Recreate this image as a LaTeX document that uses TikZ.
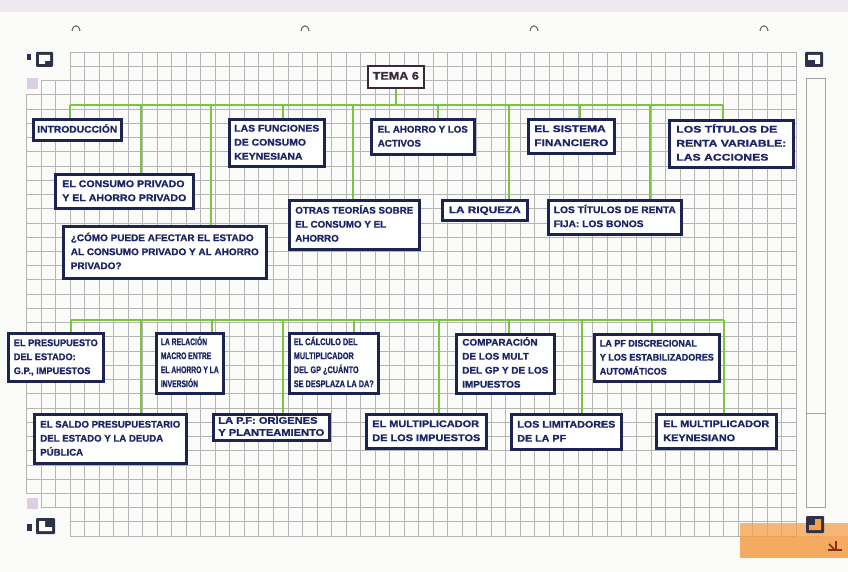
\documentclass[tikz,border=0pt]{standalone}
\usepackage{fontspec}
\setmainfont{Liberation Sans}[BoldFeatures={FakeBold=1.2}]
\usepackage{graphicx}
\definecolor{paperc}{HTML}{FBFBFA}
\definecolor{gridc}{HTML}{B5B5B5}
\definecolor{boxc}{HTML}{1E2452}
\definecolor{txtc}{HTML}{1C2566}
\definecolor{greenc}{HTML}{7CC443}
\definecolor{temac}{HTML}{3E2838}
\definecolor{markc}{HTML}{2E3248}
\definecolor{pinkc}{HTML}{DCCFE3}
\definecolor{bandc}{HTML}{EEE9F1}
\definecolor{orangec}{HTML}{F4A04A}
\definecolor{redc}{HTML}{8E2A18}
\newcommand{\hwt}[2]{\resizebox{#1pt}{\height}{\begin{tabular}{@{}l@{}}#2\end{tabular}}}
\tikzset{
  box/.style={draw=boxc, line width=2.6pt, fill=white, inner sep=0pt, anchor=north west,
    text=txtc, font=\bfseries\fontsize{9.6}{14}\selectfont},
  tightbox/.style={box, font=\bfseries\fontsize{9.6}{12}\selectfont},
  temabox/.style={draw=temac, line width=1.6pt, fill=white, inner sep=0pt, anchor=north west,
    text=temac, font=\bfseries\fontsize{11}{14}\selectfont},
  conn/.style={draw=greenc, line width=2.6pt},
  gridl/.style={draw=gridc, line width=0.6pt},
  hole/.style={draw=gray!85!black, line width=1.1pt},
}
\begin{document}
\begin{tikzpicture}[x=1pt,y=-1pt]
\useasboundingbox (0,0) rectangle (848,572);
\fill[paperc] (0,0) rectangle (848,572);
\fill[bandc] (0,0) rectangle (848,12);
% punched hole marks
\foreach \hx in {76,305,534,764} {
  \draw[hole] (\hx-4,31) .. controls (\hx-3,24) and (\hx+3,24) .. (\hx+4,31);
}
% grid
\foreach \i in {0,...,50} \draw[gridl] ({70+14.52*\i},52) -- ({70+14.52*\i},536);
\foreach \i in {-2,-1} \draw[gridl] ({70+14.52*\i},80.47) -- ({70+14.52*\i},507.52);
\draw[gridl] (26.44,94.7) -- (26.44,493.3);
\foreach \j in {0,1,33,34} \draw[gridl] (70,{52+14.235*\j}) -- (796,{52+14.235*\j});
\foreach \j in {2,32} \draw[gridl] (41,{52+14.235*\j}) -- (796,{52+14.235*\j});
\foreach \j in {3,...,31} \draw[gridl] (26.44,{52+14.235*\j}) -- (796,{52+14.235*\j});
% right strip
\draw[draw=gridc!90!black, line width=0.8pt] (806,78) rectangle (825,507);
\draw[draw=gridc!90!black, line width=0.8pt] (806,413) -- (825,413);
% margin marks
\fill[pinkc] (27,78) rectangle (38,89);
\fill[pinkc] (27,498) rectangle (38,509);
\fill[markc] (27,54) rectangle (31,60);
\fill[markc] (27,524) rectangle (32,531);
\fill[markc, rounded corners=1pt] (36,52) rectangle (53,67);
\fill[white] (39,55) -- (50,55) -- (50,61) -- (45,61) -- (45,64) -- (39,64) -- cycle;
\fill[markc, rounded corners=1pt] (805,52) rectangle (823,67);
\fill[white] (808,55) -- (820,55) -- (820,64) -- (815,64) -- (815,60) -- (808,60) -- cycle;
\fill[markc, rounded corners=1pt] (36,518) rectangle (55,534);
\fill[white] (39,521) -- (45,521) -- (45,527) -- (52,527) -- (52,531) -- (39,531) -- cycle;
% orange note
\fill[orangec, opacity=0.75] (740,523) rectangle (848,558);
\fill[orangec, opacity=0.5] (740,536) rectangle (848,558);
\fill[markc, rounded corners=1pt] (806,516) rectangle (824,533);
\fill[orangec] (815,519) -- (821,519) -- (821,530) -- (809,530) -- (809,525) -- (815,525) -- cycle;
\draw[redc, line width=2pt] (828,550) -- (842,550);
\draw[redc, line width=2pt] (836,541) -- (836,551);
\draw[redc, line width=1.6pt] (829,544) -- (834,549);

% title
\node[temabox, minimum width=56pt, minimum height=22pt] (tema) at (367,65) {\hwt{46}{TEMA 6}};

% top branch boxes
\node[box, minimum width=88pt, minimum height=21pt] (intro) at (32,118) {\hwt{80}{INTRODUCCIÓN}};
\node[box, minimum width=138pt, minimum height=34pt] (consumo) at (54,173) {\hwt{124}{EL CONSUMO PRIVADO\\Y EL AHORRO PRIVADO}};
\node[box, minimum width=203pt, minimum height=52pt] (como) at (62,225) {\hwt{188}{¿CÓMO PUEDE AFECTAR EL ESTADO\\AL CONSUMO PRIVADO Y AL AHORRO\\PRIVADO?}};
\node[box, minimum width=95pt, minimum height=47pt] (funciones) at (228,118) {\hwt{85}{LAS FUNCIONES\\DE CONSUMO\\KEYNESIANA}};
\node[box, minimum width=130pt, minimum height=49pt] (otras) at (288,199) {\hwt{118}{OTRAS TEORÍAS SOBRE\\EL CONSUMO Y EL\\AHORRO}};
\node[box, minimum width=103pt, minimum height=35pt] (ahorro) at (370,118) {\hwt{90}{EL AHORRO Y LOS\\ACTIVOS}};
\node[box, minimum width=85pt, minimum height=20pt] (riqueza) at (441,199) {\hwt{72}{LA RIQUEZA}};
\node[box, minimum width=86pt, minimum height=34pt] (sistema) at (527,118) {\hwt{74}{EL SISTEMA\\FINANCIERO}};
\node[box, minimum width=133pt, minimum height=34pt] (fija) at (547,199) {\hwt{122}{LOS TÍTULOS DE RENTA\\FIJA: LOS BONOS}};
\node[box, minimum width=124pt, minimum height=47pt] (variable) at (668,119) {\hwt{110}{LOS TÍTULOS DE\\RENTA VARIABLE:\\LAS ACCIONES}};

% bottom branch boxes
\node[box, minimum width=95pt, minimum height=48pt] (presupuesto) at (7,332) {\hwt{84}{EL PRESUPUESTO\\DEL ESTADO:\\G.P., IMPUESTOS}};
\node[box, minimum width=152pt, minimum height=49pt] (saldo) at (33,413) {\hwt{140}{EL SALDO PRESUPUESTARIO\\DEL ESTADO Y LA DEUDA\\PÚBLICA}};
\node[box, minimum width=67pt, minimum height=60pt] (relacion) at (155,332) {\hwt{58}{LA RELACIÓN\\MACRO ENTRE\\EL AHORRO Y LA\\INVERSIÓN}};
\node[tightbox, minimum width=116pt, minimum height=26pt] (pf) at (212,413) {\hwt{106}{LA P.F: ORÍGENES\\Y PLANTEAMIENTO}};
\node[box, minimum width=89pt, minimum height=60pt] (calculo) at (288,332) {\hwt{80}{EL CÁLCULO DEL\\MULTIPLICADOR\\DEL GP ¿CUÁNTO\\SE DESPLAZA LA DA?}};
\node[box, minimum width=120pt, minimum height=34pt] (multimp) at (365,413) {\hwt{108}{EL MULTIPLICADOR\\DE LOS IMPUESTOS}};
\node[box, minimum width=98pt, minimum height=59pt] (comparacion) at (455,333) {\hwt{86}{COMPARACIÓN\\DE LOS MULT\\DEL GP Y DE LOS\\IMPUESTOS}};
\node[box, minimum width=110pt, minimum height=35pt] (limitadores) at (510,413) {\hwt{98}{LOS LIMITADORES\\DE LA PF}};
\node[box, minimum width=125pt, minimum height=47pt] (discrecional) at (593,333) {\hwt{114}{LA PF DISCRECIONAL\\Y LOS ESTABILIZADORES\\AUTOMÁTICOS}};
\node[box, minimum width=120pt, minimum height=34pt] (keynesiano) at (655,413) {\hwt{106}{EL MULTIPLICADOR\\KEYNESIANO}};

% connectors: top bus
\coordinate (tL) at (70,105);
\coordinate (tR) at (723,105);
\draw[conn] (tL) -- (tR);
\draw[conn] (tema.south) -- (tema.south |- tL);
\coordinate (a1) at (70,105);
\coordinate (a2) at (141,105);
\coordinate (a3) at (211,105);
\coordinate (a4) at (283,105);
\coordinate (a5) at (353,105);
\coordinate (a6) at (438,105);
\coordinate (a7) at (509,105);
\coordinate (a8) at (580,105);
\coordinate (a9) at (650,105);
\coordinate (a10) at (723,105);
\draw[conn] (a1) -- (a1 |- intro.north);
\draw[conn] (a2) -- (a2 |- consumo.north);
\draw[conn] (a3) -- (a3 |- como.north);
\draw[conn] (a4) -- (a4 |- funciones.north);
\draw[conn] (a5) -- (a5 |- otras.north);
\draw[conn] (a6) -- (a6 |- ahorro.north);
\draw[conn] (a7) -- (a7 |- riqueza.north);
\draw[conn] (a8) -- (a8 |- sistema.north);
\draw[conn] (a9) -- (a9 |- fija.north);
\draw[conn] (a10) -- (a10 |- variable.north);

% connectors: bottom bus
\coordinate (bL) at (71,320);
\coordinate (bR) at (724,320);
\draw[conn] (bL) -- (bR);
\coordinate (b1) at (71,320);
\coordinate (b2) at (141,320);
\coordinate (b3) at (212,320);
\coordinate (b4) at (283,320);
\coordinate (b5) at (354,320);
\coordinate (b6) at (439,320);
\coordinate (b7) at (509,320);
\coordinate (b8) at (582,320);
\coordinate (b9) at (652,320);
\coordinate (b10) at (724,320);
\draw[conn] (b1) -- (b1 |- presupuesto.north);
\draw[conn] (b2) -- (b2 |- saldo.north);
\draw[conn] (b3) -- (b3 |- relacion.north);
\draw[conn] (b4) -- (b4 |- pf.north);
\draw[conn] (b5) -- (b5 |- calculo.north);
\draw[conn] (b6) -- (b6 |- multimp.north);
\draw[conn] (b7) -- (b7 |- comparacion.north);
\draw[conn] (b8) -- (b8 |- limitadores.north);
\draw[conn] (b9) -- (b9 |- discrecional.north);
\draw[conn] (b10) -- (b10 |- keynesiano.north);
\end{tikzpicture}
\end{document}
